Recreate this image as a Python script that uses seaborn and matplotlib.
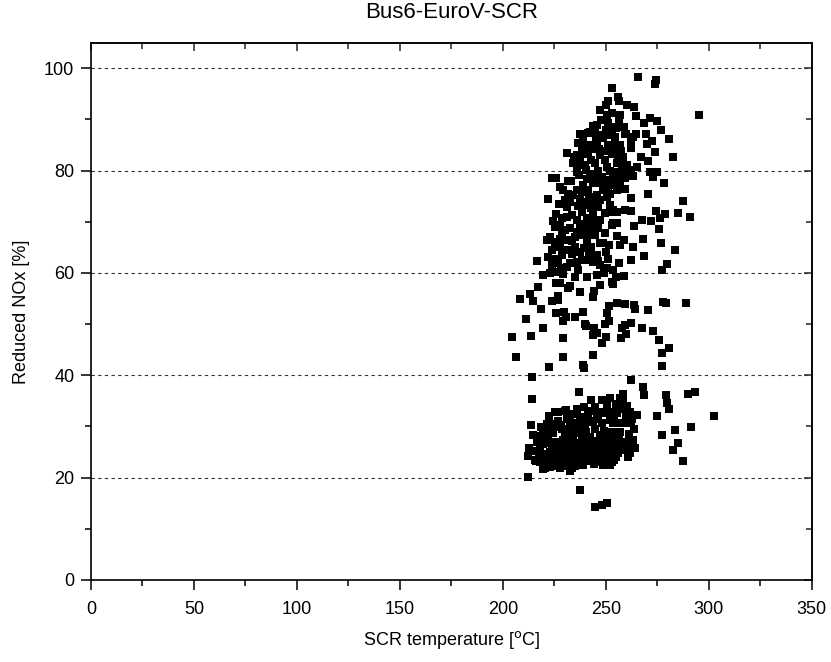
import matplotlib
matplotlib.use('Agg')
import matplotlib.pyplot as plt
import seaborn as sns
import pandas as pd
from matplotlib.ticker import MultipleLocator

# SCR temperature [°C] and reduced NOx [%]
temp_upper = [253.1, 250.8, 250.0, 247.1, 250.5, 252.8, 250.8, 241.4, 244.7, 251.0, 238.7, 248.5, 236.4, 240.8,
              230.9, 234.5, 237.4, 233.8, 236.1, 223.6, 226.0, 265.7, 274.3, 273.8, 256.0, 256.5, 260.3, 263.6,
              256.8, 256.5, 264.6, 271.4, 268.6, 274.6, 295.0, 258.7, 276.7, 259.7, 264.6, 263.3, 262.1, 262.4,
              269.7, 272.2, 270.0, 280.4, 254.4, 255.2, 256.0, 256.8, 273.8, 282.7, 266.8, 270.2, 265.2, 259.2,
              262.4, 271.4, 274.6, 273.0, 263.3, 237.4, 242.2, 248.7, 254.4, 259.2, 239.0, 245.5, 251.1, 256.8,
              235.8, 241.4, 247.1, 252.8, 258.4, 239.8, 244.7, 250.3, 255.2, 260.0, 236.9, 242.2, 247.9, 253.5,
              259.2, 239.0, 245.5, 251.1, 256.8, 243.5, 249.5, 246.2, 240.5, 253.0, 245.8, 242.9,
              238.5, 243.0, 246.5, 250.0, 254.0, 257.5, 241.0, 244.0, 249.0, 252.0, 255.5, 257.8, 245.0, 249.8,
              247.5, 252.5, 255.0, 243.5, 236.0, 233.0, 238.5, 242.0, 246.0, 252.0]
nox_upper = [96.2, 93.6, 92.8, 91.8, 90.8, 91.3, 89.3, 87.4, 87.4, 86.9, 85.9, 86.3, 85.4, 84.4,
             83.5, 82.7, 82.6, 81.4, 81.2, 78.5, 78.5, 98.2, 97.8, 96.9, 94.3, 93.6, 92.9, 92.4,
             90.8, 89.7, 90.6, 90.3, 89.4, 89.7, 90.8, 88.5, 87.9, 87.1, 87.1, 86.6, 85.6, 84.5,
             87.1, 85.8, 85.2, 86.1, 85.9, 84.0, 82.4, 81.7, 83.7, 82.7, 82.7, 81.9, 80.7, 80.4,
             80.1, 79.8, 79.8, 78.8, 78.9, 87.2, 87.6, 86.9, 86.6, 87.2, 85.3, 85.6, 85.0, 85.0,
             83.0, 83.3, 83.0, 83.3, 82.7, 81.1, 81.4, 80.7, 81.4, 81.1, 79.1, 79.4, 78.8, 79.1,
             78.8, 77.1, 77.5, 76.8, 77.1, 84.2, 82.1, 79.9, 80.2, 88.2, 89.0, 85.0,
             83.8, 82.0, 84.3, 83.9, 84.5, 83.8, 78.3, 79.2, 78.0, 80.0, 79.8, 80.2, 86.2, 88.0,
             89.8, 88.5, 88.3, 88.8, 79.8, 77.9, 75.8, 74.8, 72.8, 75.5]

temp_middle = [222.0, 227.7, 229.3, 231.7, 235.8, 237.4, 234.1, 230.1, 230.9, 241.4, 243.8, 247.1, 250.3, 253.5,
               245.5, 247.1, 250.3, 251.9, 240.6, 243.0, 226.0, 228.5, 230.9, 233.3, 235.8, 238.2, 243.8, 247.1,
               244.7, 253.5, 225.2, 227.7, 230.1, 232.5, 235.8, 239.0, 241.4, 242.2, 252.8, 222.8, 221.2, 225.2,
               227.7, 230.9, 234.9, 238.2, 240.6, 244.7, 247.1, 248.7, 227.7, 230.9, 234.9, 237.4, 228.5, 225.2,
               222.0, 216.3, 223.6, 226.9, 230.9, 232.5, 235.8, 238.2, 240.6, 243.8, 246.3, 251.1, 247.1, 250.3,
               253.5, 219.6, 222.8, 225.2, 234.9, 240.6, 245.5, 255.2, 259.2, 278.2, 253.5, 255.2, 259.2, 270.2,
               262.0, 287.2, 253.5, 255.2, 259.2, 262.4, 274.1, 276.2, 278.6, 285.1, 290.8, 267.3, 271.8, 253.5,
               255.2, 263.6, 275.7, 255.5, 258.7, 256.8, 268.1, 276.7, 263.3, 283.5, 268.6, 262.0, 256.5, 279.8,
               277.0, 254.9, 258.7, 252.8, 244.0, 248.5, 236.5, 232.5, 249.5, 241.0, 246.0, 249.5, 237.5, 233.5,
               228.5, 243.0, 239.5, 251.5, 245.5, 249.0, 229.0, 231.5,
               227.0, 224.5, 239.5, 245.0, 233.5, 228.0, 236.5, 242.0, 250.0, 224.0]
nox_middle = [74.5, 76.8, 76.2, 77.9, 76.2, 74.5, 75.2, 74.2, 72.9, 76.2, 77.5, 77.8, 78.1, 78.5,
              75.2, 74.2, 74.9, 73.2, 73.9, 72.6, 71.6, 70.7, 71.0, 71.3, 70.3, 71.9, 71.6, 70.3,
              70.0, 71.9, 69.0, 69.3, 68.4, 68.7, 68.0, 68.7, 69.3, 68.0, 69.3, 67.1, 66.4, 66.1,
              66.7, 66.4, 67.1, 67.4, 66.4, 67.4, 65.8, 65.8, 65.1, 64.5, 65.1, 64.1, 63.5, 62.8,
              63.1, 62.3, 61.5, 61.9, 61.2, 61.9, 62.1, 62.5, 62.5, 62.2, 62.3, 62.8, 61.5, 60.9,
              60.5, 59.6, 59.9, 60.2, 59.2, 59.2, 59.6, 78.5, 78.5, 77.5, 77.1, 76.2, 76.5, 75.5,
              74.7, 74.1, 72.3, 71.9, 72.3, 72.1, 72.1, 70.8, 71.6, 71.7, 71.0, 70.3, 70.2, 69.7,
              69.7, 69.2, 68.6, 67.2, 66.4, 65.4, 66.7, 65.9, 65.0, 64.5, 63.4, 62.6, 61.9, 61.7,
              60.5, 59.2, 59.4, 58.3, 74.2, 76.3, 73.0, 73.8, 71.7, 70.8, 68.8, 67.8, 69.5, 66.2,
              67.8, 65.0, 64.8, 65.5, 63.5, 60.0, 59.8, 75.5,
              73.5, 70.2, 73.2, 69.0, 63.8, 61.0, 60.5, 63.8, 64.0, 64.5]

temp_lower_mid = [217.1, 226.0, 227.7, 232.5, 231.7, 237.4, 247.1, 244.2, 243.8, 253.5, 213.1, 214.7, 208.3, 226.9,
                  226.9, 223.6, 251.6, 218.4, 226.0, 229.7, 229.3, 230.4, 234.9, 239.0, 250.6, 211.2, 239.8, 240.3,
                  244.2, 245.5, 243.5, 249.5, 251.6, 219.6, 250.0, 247.9, 204.2, 213.4, 229.3, 206.2, 229.3, 243.8,
                  222.5, 239.0, 239.3, 213.9, 236.9, 255.2, 259.2, 263.6, 264.1, 270.6, 277.8, 279.1, 288.8, 262.4,
                  259.2, 257.6, 259.7, 257.3, 267.6, 272.8, 275.9, 280.7, 277.0, 277.3, 262.1, 268.1, 258.4, 268.6,
                  279.1, 290.0, 293.2]
nox_lower_mid = [57.3, 58.0, 58.1, 57.4, 57.0, 56.3, 57.6, 56.5, 55.3, 57.8, 55.9, 54.6, 55.0, 55.5,
                 54.8, 54.6, 53.5, 52.9, 52.1, 52.4, 50.6, 51.4, 51.4, 52.3, 52.1, 51.0, 50.0, 49.6,
                 49.2, 48.3, 47.9, 50.1, 50.6, 49.3, 47.5, 46.3, 47.4, 47.7, 47.2, 43.5, 43.6, 43.9,
                 41.7, 42.0, 41.5, 39.6, 36.8, 54.2, 53.9, 53.7, 52.9, 52.7, 54.4, 54.2, 54.2, 50.3,
                 49.8, 49.2, 48.0, 47.3, 49.2, 48.7, 46.9, 45.3, 44.4, 41.9, 39.1, 37.8, 36.3, 36.1,
                 36.1, 36.3, 36.8]

temp_lower = [214.2, 243.0, 247.9, 251.9, 230.6, 226.9, 244.7, 245.5, 248.7, 252.8, 232.5, 237.4, 241.4, 213.4,
              214.4, 218.3, 219.6, 212.8, 212.3, 215.9, 219.3, 222.8, 227.7, 232.5, 230.9, 226.9, 212.3, 237.4,
              244.7, 247.9, 250.3, 256.8, 258.1, 279.8, 280.7, 254.4, 258.4, 261.7, 264.9, 274.6, 302.6, 253.5,
              258.4, 262.4, 283.5, 291.1, 277.0, 253.5, 258.4, 263.3, 264.1, 258.4, 285.1, 282.7, 252.8, 260.9,
              252.8, 287.2, 230.1, 249.5, 255.2, 224.4, 228.5, 232.5, 235.8, 239.8, 243.8, 247.9, 251.9, 256.0,
              221.2, 225.2, 229.3, 234.1, 238.2, 242.2, 247.1, 251.1, 255.2, 218.0, 222.8, 227.7, 231.7, 235.8,
              239.8, 244.7, 249.5, 253.5, 256.8, 215.5, 219.6, 224.4, 229.3, 234.1, 238.2, 243.0, 247.9, 220.4,
              237.4, 251.9, 216.5, 220.5, 223.0, 226.5, 230.0, 233.0, 236.5, 240.5, 244.5, 249.0, 253.0, 257.0,
              261.0, 226.0, 230.5, 233.0, 237.0, 241.0, 245.5, 250.0, 254.5, 260.0, 217.5, 221.5, 226.0, 230.0,
              233.0, 236.5, 240.5, 245.0, 250.0, 255.0, 225.0, 235.0, 241.0, 246.0, 239.0, 234.0, 228.0, 222.0,
              222.5, 225.5, 236.0, 239.5, 242.0, 250.5, 255.0, 260.0, 262.5, 259.8, 254.0, 246.0, 241.5, 237.5,
              231.0, 226.0, 221.5, 217.0, 223.0, 231.5, 235.0, 239.0, 243.0, 248.0, 252.5, 256.5, 261.5, 263.5,
              219.5, 224.0, 228.5, 232.5, 236.0, 242.0, 246.5, 251.5, 256.0, 261.5, 216.0, 221.0, 228.0, 232.0,
              236.5, 240.0, 244.5, 249.0, 254.0, 223.5, 231.0, 239.0, 244.0, 248.5, 233.5, 218.0]
nox_lower = [35.3, 35.2, 35.2, 35.5, 33.3, 32.9, 33.8, 32.6, 32.9, 32.4, 31.9, 31.9, 32.2, 30.3,
             28.3, 29.9, 29.3, 25.7, 24.2, 23.3, 21.6, 22.0, 21.8, 21.3, 22.8, 23.1, 20.2, 17.6,
             14.2, 14.6, 15.0, 35.5, 34.8, 34.5, 33.5, 32.9, 33.5, 32.9, 32.2, 32.0, 32.0, 30.6,
             30.6, 30.6, 29.3, 29.8, 28.3, 27.3, 27.0, 27.3, 25.7, 25.4, 26.7, 25.4, 24.4, 24.1,
             23.1, 23.2, 33.0, 32.6, 32.7, 28.7, 29.6, 30.3, 30.6, 30.0, 31.0, 30.6, 31.3, 30.6,
             26.7, 27.0, 27.3, 27.3, 27.7, 28.0, 28.3, 27.7, 28.7, 25.7, 25.1, 25.4, 25.1, 25.4,
             25.7, 26.0, 26.0, 25.4, 26.0, 23.4, 22.8, 23.8, 23.1, 23.8, 23.4, 24.1, 24.1, 21.8,
             22.5, 22.5, 27.0, 28.0, 30.5, 31.0, 28.5, 29.0, 28.8, 29.0, 29.5, 29.2, 29.0, 29.0,
             28.5, 26.0, 26.5, 26.0, 26.5, 26.8, 27.2, 27.0, 26.5, 26.0, 24.5, 23.8, 24.5, 24.0,
             24.8, 24.5, 24.8, 25.0, 24.9, 24.0, 22.3, 22.3, 23.2, 23.0, 31.2, 32.5, 30.3, 27.5,
             32.0, 32.8, 33.5, 33.8, 33.0, 34.0, 34.3, 34.0, 31.5, 31.8, 31.8, 31.5, 30.8, 30.3,
             31.5, 29.8, 30.5, 28.2, 28.9, 28.9, 29.3, 28.3, 27.2, 26.8, 28.0, 27.5, 27.0, 29.5,
             26.5, 25.8, 26.3, 27.8, 26.8, 25.3, 25.5, 25.8, 24.8, 24.8, 25.2, 24.6, 24.2, 23.6,
             23.3, 24.3, 23.4, 23.3, 23.5, 22.4, 22.3, 22.4, 22.6, 22.4, 21.8, 23.0]

title = "Bus6-EuroV-SCR"
x_label = "SCR temperature [$^{\\mathrm{o}}$C]"
y_label = "Reduced NOx [%]"

df = pd.DataFrame({
    "temp": temp_upper + temp_middle + temp_lower_mid + temp_lower,
    "nox": nox_upper + nox_middle + nox_lower_mid + nox_lower,
})

sns.set_theme(style="white")
plt.rcParams['font.family'] = ['Liberation Sans', 'DejaVu Sans']

fig = plt.figure(figsize=(8.31, 6.62), dpi=100)
ax = fig.add_axes([0.1095, 0.1239, 0.8675, 0.8116])

sns.scatterplot(data=df, x="temp", y="nox", marker="s", s=33, color="black",
                edgecolor="black", linewidth=0, ax=ax, legend=False, zorder=3)

ax.set_xlim(0, 350)
ax.set_ylim(0, 105)
ax.xaxis.set_major_locator(MultipleLocator(50))
ax.xaxis.set_minor_locator(MultipleLocator(25))
ax.yaxis.set_major_locator(MultipleLocator(20))
ax.yaxis.set_minor_locator(MultipleLocator(10))

ax.yaxis.grid(True, which="major", linestyle=(0, (3, 3)), color="#333333", linewidth=0.8)
ax.xaxis.grid(False)
ax.set_axisbelow(True)

for sp in ax.spines.values():
    sp.set_visible(True)
    sp.set_color("black")
    sp.set_linewidth(1.2)

ax.tick_params(axis="x", which="major", direction="out", length=7, width=1.1, color="black",
               labelsize=13, labelcolor="black", bottom=True, pad=8)
ax.tick_params(axis="y", which="major", direction="out", length=7, width=1.1, color="black",
               labelsize=13, labelcolor="black", left=True, pad=5)
ax.tick_params(which="minor", direction="out", length=4, width=1.1, color="black",
               bottom=True, left=True)

top = ax.secondary_xaxis("top")
top.xaxis.set_major_locator(MultipleLocator(50))
top.xaxis.set_minor_locator(MultipleLocator(25))
top.tick_params(which="major", direction="in", length=6, width=1.1, labeltop=False)
top.tick_params(which="minor", direction="in", length=4, width=1.1)
top.spines["top"].set_linewidth(1.2)
right = ax.secondary_yaxis("right")
right.yaxis.set_major_locator(MultipleLocator(20))
right.yaxis.set_minor_locator(MultipleLocator(10))
right.tick_params(which="major", direction="in", length=6, width=1.1, labelright=False)
right.tick_params(which="minor", direction="in", length=4, width=1.1)
right.spines["right"].set_linewidth(1.2)

ax.set_xlabel(x_label, fontsize=13, color="black", labelpad=8)
ax.set_ylabel(y_label, fontsize=13, color="black", labelpad=10)
ax.set_title(title, fontsize=16, color="black", pad=18)

fig.savefig("out.png", dpi=100)
